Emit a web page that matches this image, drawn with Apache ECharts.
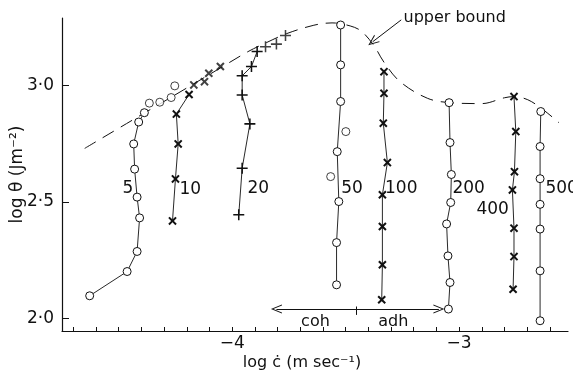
<!DOCTYPE html>
<html><head><meta charset="utf-8">
<script src="https://cdn.jsdelivr.net/npm/echarts@6/dist/echarts.min.js"></script>
<style>html,body{margin:0;padding:0;background:#fff}#c{width:573px;height:379px}</style>
</head><body><div id="c"></div>
<script>
// ---- data (log c-dot, log theta) ----
const s5 = [[-4.628,2.098],[-4.463,2.202],[-4.419,2.288],[-4.408,2.432],[-4.419,2.521],[-4.430,2.641],[-4.434,2.749],[-4.412,2.843],[-4.387,2.883]];
const s5Upper = [[-4.365,2.924],[-4.319,2.928],[-4.269,2.948],[-4.253,2.998]];
const s10 = [[-4.263,2.419],[-4.250,2.599],[-4.238,2.749],[-4.246,2.877],[-4.190,2.961]];
const s10Upper = [[-4.169,3.002],[-4.122,3.016],[-4.103,3.052],[-4.052,3.081]];
const s20 = [[-3.971,2.445],[-3.956,2.645],[-3.922,2.835],[-3.956,2.959],[-3.956,3.041],[-3.915,3.081],[-3.890,3.145]];
const s20Upper = [[-3.853,3.166],[-3.805,3.177],[-3.765,3.214]];
const s50 = [[-3.522,3.259],[-3.522,3.088],[-3.522,2.931],[-3.537,2.716],[-3.530,2.502],[-3.540,2.326],[-3.540,2.145]];
const s50Off = [[-3.499,2.802],[-3.566,2.609]];
const s100 = [[-3.331,3.059],[-3.331,2.966],[-3.334,2.838],[-3.316,2.669],[-3.338,2.531],[-3.338,2.395],[-3.338,2.231],[-3.341,2.081]];
const s200 = [[-3.044,2.926],[-3.040,2.755],[-3.034,2.618],[-3.037,2.498],[-3.055,2.406],[-3.049,2.269],[-3.040,2.155],[-3.047,2.041]];
const s400 = [[-2.758,2.952],[-2.750,2.802],[-2.756,2.630],[-2.765,2.552],[-2.758,2.388],[-2.758,2.266],[-2.762,2.126]];
const s500 = [[-2.640,2.888],[-2.643,2.738],[-2.643,2.600],[-2.643,2.490],[-2.643,2.384],[-2.643,2.205],[-2.643,1.991]];
const upperBound = [[-4.65,2.73],[-4.40,2.874],[-4.20,2.989],[-4.05,3.076],[-3.93,3.145],[-3.85,3.183],[-3.76,3.222],[-3.64,3.258],[-3.56,3.268],[-3.48,3.255],[-3.43,3.232],[-3.375,3.17],[-3.33,3.098],[-3.26,3.016],[-3.14,2.945],[-3.04,2.926],[-2.90,2.922],[-2.80,2.947],[-2.76,2.952],[-2.68,2.93],[-2.56,2.84]];
// curve labels (rate values)
const curveLabels = ['5','10','20','50','100','200','400','500'];
const curveLabelPos = [[-4.459,2.559],[-4.185,2.552],[-3.885,2.559],[-3.472,2.559],[-3.255,2.559],[-2.958,2.559],[-2.852,2.466],[-2.548,2.559]];
// annotations
const cohAdhArrow = [[-3.805,2.041],[-3.089,2.041]];
const cohAdhTick = [[-3.452,2.052],[-3.452,2.016]];
const cohAdhText = ['coh','adh'];
const cohAdhTextPos = [[-3.633,1.987],[-3.290,1.987]];
const boundArrow = [[-3.255,3.281],[-3.381,3.187]];
const boundText = 'upper bound';
const boundTextPos = [-3.245,3.291];
// axes
const xTicks = [-4.7,-4.6,-4.5,-4.4,-4.3,-4.2,-4.1,-4.0,-3.9,-3.8,-3.7,-3.6,-3.5,-3.4,-3.3,-3.2,-3.1,-3.0,-2.9,-2.8,-2.7,-2.6];
const xLabelValues = [-4,-3];
const xTickLabels = ['\u22124','\u22123'];
const yLabelValues = [2.0,2.5,3.0];
const yTickLabels = ['2\u00b70','2\u00b75','3\u00b70'];

const FONT = 'DejaVu Sans';
const INK = '#111';
const CROSS = 'path://M4,0H6V4H10V6H6V10H4V6H0V4H4Z';
const PLUS = 'path://M4.3,0H5.7V4.3H10V5.7H5.7V10H4.3V5.7H0V4.3H4.3Z';
const CHEV = 'path://M0,10L5,0L10,10L8.9,10L5,2.2L1.1,10Z';

const circleStyle = {symbol:'circle', symbolSize:8, itemStyle:{color:'#fff', borderColor:INK, borderWidth:1}};
const xStyle = {symbol:CROSS, symbolSize:10, symbolRotate:45, itemStyle:{color:INK}};
const plusStyle = {symbol:PLUS, symbolSize:11, itemStyle:{color:INK}};

function lineS(data, st){ return Object.assign({type:'line', data, lineStyle:{color:INK,width:0.9}, z:3}, st); }
function scatS(data, st){ return Object.assign({type:'scatter', data, z:4}, st); }
const txt = (size,extra)=>Object.assign({show:true, position:'inside', formatter:'{b}', color:INK, fontFamily:FONT, fontSize:size, textBorderWidth:0, opacity:1}, extra||{});

const chart = echarts.init(document.getElementById('c'));
chart.setOption({
  animation:false,
  backgroundColor:'#fff',
  grid:{left:62, right:5, top:18, bottom:48, containLabel:false, outerBoundsMode:'none'},
  xAxis:{type:'value', min:-4.75, max:-2.52,
    axisLine:{lineStyle:{color:INK,width:1.2}},
    axisTick:{inside:true, length:4, customValues:xTicks, lineStyle:{color:INK}},
    axisLabel:{customValues:xLabelValues, formatter:v=>xTickLabels[xLabelValues.indexOf(Math.round(v))], color:INK, fontFamily:FONT, fontSize:17, margin:4},
    splitLine:{show:false},
    name:'log \u010b (m sec\u207b\u00b9)', nameLocation:'middle', nameGap:24, nameMoveOverlap:false,
    nameTextStyle:{color:INK, fontFamily:FONT, fontSize:16, padding:[0,26,0,0]}},
  yAxis:{type:'value', min:1.947, max:3.289,
    axisLine:{show:true, lineStyle:{color:INK,width:1.2}},
    axisTick:{inside:true, length:7, customValues:yLabelValues, lineStyle:{color:INK}},
    axisLabel:{customValues:yLabelValues, formatter:v=>yTickLabels[yLabelValues.indexOf(Math.round(v*2)/2)], color:INK, fontFamily:FONT, fontSize:17, margin:8},
    splitLine:{show:false},
    name:'log \u03b8 (Jm\u207b\u00b2)', nameLocation:'middle', nameGap:36, nameMoveOverlap:false,
    nameTextStyle:{color:INK, fontFamily:FONT, fontSize:17}},
  series:[
    {type:'line', data:upperBound, smooth:0.35, symbol:'none', lineStyle:{color:INK, width:1, type:[13,8]}, z:2},
    lineS(s5, circleStyle), scatS(s5Upper, circleStyle),
    lineS(s10, xStyle), scatS(s10Upper, xStyle),
    lineS(s20, plusStyle), scatS(s20Upper, plusStyle),
    lineS(s50, circleStyle), scatS(s50Off, circleStyle),
    lineS(s100, xStyle),
    lineS(s200, circleStyle),
    lineS(s400, xStyle),
    lineS(s500, circleStyle),
    {type:'scatter', symbol:'circle', symbolSize:2, itemStyle:{color:'rgba(255,255,255,0)'}, z:6, silent:true, clip:false,
      data:curveLabels.map((t,i)=>({name:t, value:curveLabelPos[i]})),
      label:txt(17)},
    {type:'scatter', symbol:'circle', symbolSize:2, itemStyle:{color:'rgba(255,255,255,0)'}, z:6, silent:true, clip:false,
      data:cohAdhText.map((t,i)=>({name:t, value:cohAdhTextPos[i]})),
      label:txt(16),
      markLine:{silent:true, animation:false, label:{show:false}, lineStyle:{color:INK,width:1,type:'solid'},
        symbol:[CHEV,CHEV], symbolSize:[9,11],
        data:[[{coord:cohAdhArrow[0]},{coord:cohAdhArrow[1]}],
              [{coord:cohAdhTick[0], symbol:'none'},{coord:cohAdhTick[1], symbol:'none'}]]}},
    {type:'scatter', symbol:'circle', symbolSize:2, itemStyle:{color:'rgba(255,255,255,0)'}, z:6, silent:true, clip:false,
      data:[{name:boundText, value:boundTextPos}],
      label:txt(16,{align:'left'}),
      markLine:{silent:true, animation:false, label:{show:false}, lineStyle:{color:INK,width:1,type:'solid'},
        symbol:['none',CHEV], symbolSize:[9,11],
        data:[[{coord:boundArrow[0]},{coord:boundArrow[1]}]]}}
  ]
});
</script></body></html>
